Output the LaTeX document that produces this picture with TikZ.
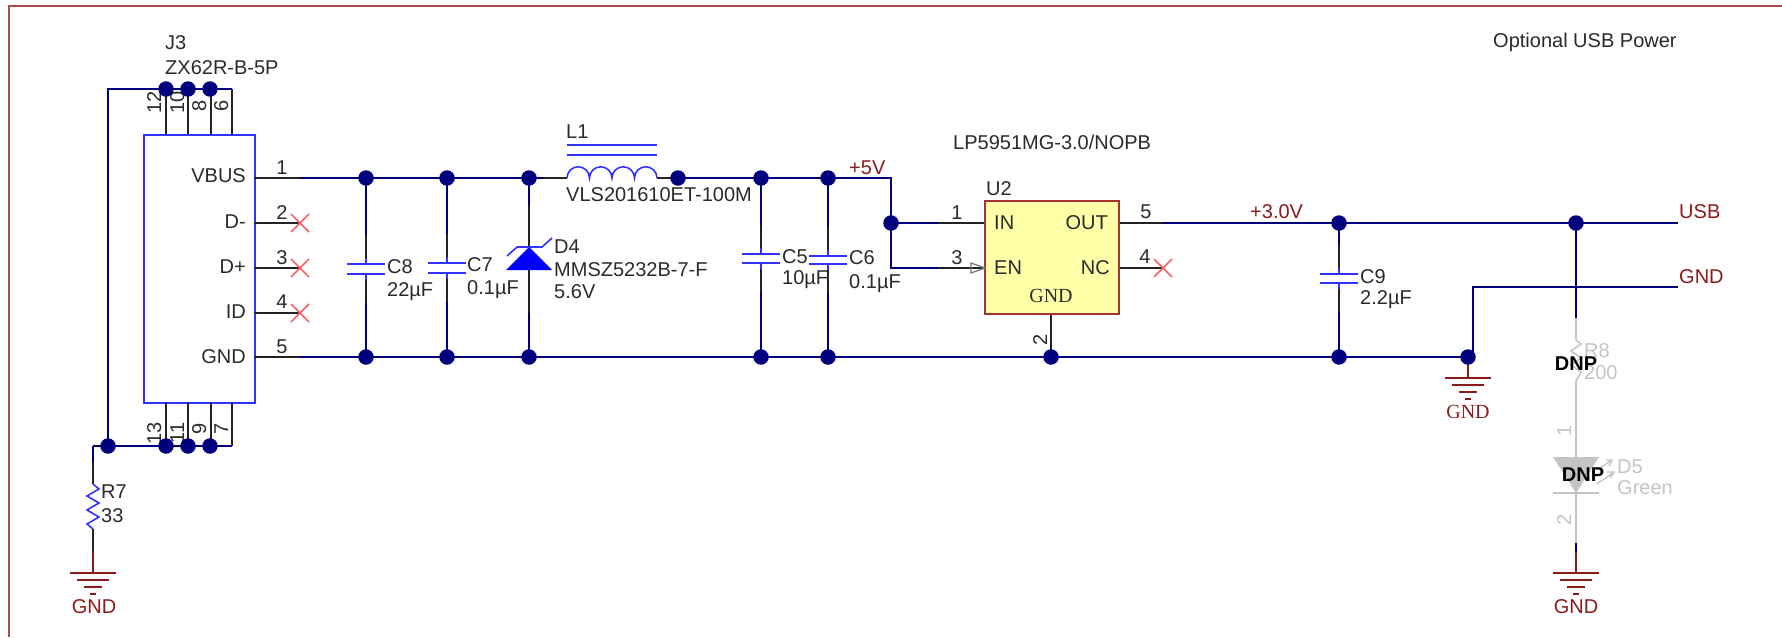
\documentclass[tikz,border=0pt]{standalone}
\usepackage{fontspec}
\setmainfont{Liberation Sans}
\newfontfamily\serifgnd{Liberation Serif}
\definecolor{wirec}{HTML}{00007F}
\definecolor{partc}{HTML}{3333FF}
\definecolor{pinc}{HTML}{222222}
\definecolor{xc}{HTML}{FF6060}
\definecolor{netc}{HTML}{8B1A1A}
\definecolor{framec}{HTML}{B04A4A}
\definecolor{dnpc}{HTML}{C4C4C4}
\definecolor{chipf}{HTML}{FFFFA8}
\definecolor{chipb}{HTML}{A83232}
\definecolor{labc}{HTML}{2A2A2A}
\tikzset{
  lab/.style={font=\fontsize{20}{21}\selectfont,text=labc,inner sep=0pt},
  lw/.style={lab,anchor=mid west,yshift=-3.5pt},
  le/.style={lab,anchor=mid east,yshift=-3.5pt},
  lc/.style={lab,anchor=mid,yshift=-3.5pt},
  rot/.style={lab,anchor=mid,xshift=3.5pt,rotate=90},
  net/.style={font=\fontsize{20}{21}\selectfont,text=netc,inner sep=0pt,yshift=-3.5pt},
  netg/.style={net,anchor=mid},
  dnplab/.style={lab,text=dnpc},
  dnpmark/.style={font=\fontsize{20}{21}\selectfont\bfseries,text=black,inner sep=0pt,anchor=mid,yshift=-3.5pt},
  wire/.style={draw=wirec,line width=1.6pt},
  pin/.style={draw=pinc,line width=1.5pt},
  part/.style={draw=partc,line width=1.6pt},
  gndw/.style={draw=netc,line width=1.6pt},
  dnpw/.style={draw=dnpc,line width=1.6pt},
  dot/.style={circle,fill=wirec,draw=none,minimum size=15.5pt,inner sep=0pt},
  nc/.style={draw=xc,line width=1.5pt},
}
\newcommand{\gsym}[1]{%
  \draw[gndw] (#1) ++(-23,0) -- ++(46,0);
  \draw[gndw] (#1) ++(-16,7) -- ++(32,0);
  \draw[gndw] (#1) ++(-9,14) -- ++(18,0);
  \draw[gndw] (#1) ++(-3,21) -- ++(6,0);
}
\newcommand{\xmark}[1]{%
  \draw[nc] (#1) ++(-9,-9) -- ++(18,18);
  \draw[nc] (#1) ++(-9,9) -- ++(18,-18);
}
\newcommand{\capsym}[5]{% name, x, y1 plate, y2 plate, half width
  \coordinate (#1a) at (#2,#3);
  \coordinate (#1b) at (#2,#4);
  \coordinate (#1c) at (#2,#3-29);
  \coordinate (#1d) at (#2,#4+29);
  \draw[part] (#1a) ++(-#5,0) -- ++(2*#5,0);
  \draw[part] (#1b) ++(-#5,0) -- ++(2*#5,0);
  \draw[part] (#1a) -- ++(0,-6);
  \draw[part] (#1b) -- ++(0,6);
  \draw[pin] (#1a) ++(0,-6) -- (#1c);
  \draw[pin] (#1b) ++(0,6) -- (#1d);
}
\begin{document}
\begin{tikzpicture}[x=1pt,y=-1pt]
\useasboundingbox (0,0) rectangle (1782,637);
% frame
\coordinate (fa) at (9,637);
\coordinate (fb) at (9,6);
\coordinate (fc) at (1782,6);
\draw[draw=framec,line width=2pt] (fa) -- (fb) -- (fc);

% J3
\node[draw=partc,line width=1.8pt,fill=white,minimum width=111pt,minimum height=268pt,inner sep=0pt,anchor=north west] (J3) at (143,134) {};
\foreach \n/\x in {p12/166,p10/188,p8/211,p6/232}{
  \coordinate (\n t) at (\x,89); \coordinate (\n a) at (\x,134);
  \draw[pin] (\n t) -- (\n a);}
\foreach \n/\x in {p13/166,p11/188,p9/211,p7/232}{
  \coordinate (\n t) at (\x,446); \coordinate (\n a) at (\x,402);
  \draw[pin] (\n a) -- (\n t);}
\coordinate (tl) at (108,89);
\coordinate (bl) at (93,446);
\coordinate (jb0c) at (108,446);
\draw[wire] (p6t) -- (tl) -- (jb0c);
\draw[wire] (p7t) -- (bl);
% R7
\coordinate (r7a) at (93,462);
\coordinate (r7b) at (93,484);
\coordinate (r7c) at (93,529);
\coordinate (r7d) at (93,551);
\coordinate (g7a) at (93,573);
\draw[wire] (bl) -- (r7a);
\draw[pin] (r7a) -- (r7b);
\draw[part] (r7b) -- ++(6,5) -- ++(-12,7) -- ++(12,7) -- ++(-12,7) -- ++(12,7) -- ++(-12,7) -- (r7c);
\draw[pin] (r7c) -- (r7d);
\draw[gndw] (r7d) -- (g7a);
\gsym{g7a}
\node[netg] (gt1) at (94,607) {GND};
\node[lw] (r7n) at (101,492) {R7};
\node[lw] (r7v) at (101,516) {33};

% J3 pins right
\foreach \n/\y in {pv/178,pdm/223,pdp/268,pid/313,pg/357}{
  \coordinate (\n0) at (254,\y); \coordinate (\n1) at (300,\y);
  \draw[pin] (\n0) -- (\n1);}
\xmark{pdm1}\xmark{pdp1}\xmark{pid1}
\node[le] (lv) at (246,176) {VBUS};
\node[le] (ld) at (246,222) {D-};
\node[le] (lp) at (246,267) {D+};
\node[le] (li) at (246,312) {ID};
\node[le] (lg) at (246,357) {GND};
\node[lc] (n1) at (282,168) {1};
\node[lc] (n2) at (282,213) {2};
\node[lc] (n3) at (282,258) {3};
\node[lc] (n4) at (282,302) {4};
\node[lc] (n5) at (282,347) {5};
\node[rot] (r12) at (155,102) {12};
\node[rot] (r10) at (178,102) {10};
\node[rot] (r8) at (200,106) {8};
\node[rot] (r6) at (222,106) {6};
\node[rot] (r13) at (155,433) {13};
\node[rot] (r11) at (178,433) {11};
\node[rot] (r9) at (200,429) {9};
\node[rot] (r7r) at (222,429) {7};
\node[lw] (j3n) at (165,43) {J3};
\node[lw] (j3v) at (165,68) {ZX62R-B-5P};

% rails
\coordinate (a4c) at (678,178);
\coordinate (g9c) at (1468,357);
\coordinate (l1a) at (543,178);
\coordinate (l1b) at (567,178);
\coordinate (l1c) at (657,178);
\draw[wire] (pv1) -- (l1a);
\draw[wire] (pg1) -- (g9c);
\draw[pin] (l1a) -- (l1b);
\draw[pin] (l1c) -- (a4c);
\draw[part] (l1b) arc[start angle=180,end angle=0,radius=11.25pt] arc[start angle=180,end angle=0,radius=11.25pt] arc[start angle=180,end angle=0,radius=11.25pt] arc[start angle=180,end angle=0,radius=11.25pt];
\coordinate (lb1) at (567,145); \coordinate (lb2) at (657,145);
\coordinate (lb3) at (567,155); \coordinate (lb4) at (657,155);
\draw[part] (lb1) -- (lb2);
\draw[part] (lb3) -- (lb4);
\node[lw] (l1n) at (566,132) {L1};
\node[lw] (l1v) at (566,195) {VLS201610ET-100M};
\coordinate (vr) at (891,178);
\coordinate (en0) at (891,268);
\coordinate (inc) at (891,223);
\coordinate (in1) at (938,223);
\coordinate (en1) at (938,268);
\draw[wire] (a4c) -- (vr) -- (en0) -- (en1);
\draw[wire] (inc) -- (in1);

% capacitors and their stubs to the rails
\capsym{c8}{366}{264}{274}{19}
\capsym{c7}{447}{263}{273}{19}
\capsym{c5}{761}{254}{263}{19}
\capsym{c6}{828}{256}{264}{19}
\capsym{c9}{1339}{274}{283}{19}
\foreach \c/\x/\t in {c8/366/178,c7/447/178,c5/761/178,c6/828/178,c9/1339/223}{
  \draw[wire] (\x,\t) -- (\c c);
  \draw[wire] (\c d) -- (\x,357);
}
\node[lw] (c8n) at (387,267) {C8};
\node[lw] (c8v) at (387,290) {22µF};
\node[lw] (c7n) at (467,265) {C7};
\node[lw] (c7v) at (467,288) {0.1µF};
\node[lw] (c5n) at (782,257) {C5};
\node[lw] (c5v) at (782,278) {10µF};
\node[lw] (c6n) at (849,258) {C6};
\node[lw] (c6v) at (849,282) {0.1µF};
\node[lw] (c9n) at (1360,277) {C9};
\node[lw] (c9v) at (1360,298) {2.2µF};

% D4
\coordinate (a3c) at (529,178);
\coordinate (g3c) at (529,357);
\coordinate (d4w1) at (529,205);
\coordinate (d4k) at (529,247);
\coordinate (d4a) at (529,270);
\coordinate (d4w2) at (529,313);
\draw[wire] (a3c) -- (d4w1);
\draw[pin] (d4w1) -- (d4k);
\draw[pin] (d4a) -- (d4w2);
\draw[wire] (d4w2) -- (g3c);
\fill[blue] (d4k) -- (552,270) -- (506,270) -- cycle;
\draw[part] (507,256) -- (517,247) -- (542,247) -- (552,238);
\node[lw] (d4n) at (554,247) {D4};
\node[lw] (d4m) at (554,270) {MMSZ5232B-7-F};
\node[lw] (d4v) at (554,292) {5.6V};

\node[net,anchor=mid west] (v5) at (849,168) {+5V};
\node[lw] (u2v) at (953,143) {LP5951MG-3.0/NOPB};

% U2
\coordinate (g7c) at (1051,357);
\node[draw=chipb,fill=chipf,line width=1.8pt,minimum width=134pt,minimum height=113pt,inner sep=0pt,anchor=north west] (U2) at (984,200) {};
\draw[pin] (in1) -- (U2.west |- in1);
\draw[pin] (en1) -- (U2.west |- en1);
\draw[draw=pinc!60,line width=1.3pt] (971,263) -- (985,268) -- (971,273) -- cycle;
\coordinate (out0) at (U2.east |- in1);
\coordinate (out1) at (1163,223);
\coordinate (nc0) at (U2.east |- en1);
\coordinate (nc1) at (1163,268);
\draw[pin] (out0) -- (out1);
\draw[pin] (nc0) -- (nc1);
\xmark{nc1}
\draw[pin] (U2.south -| g7c) -- (g7c);
\coordinate (usbend) at (1678,223);
\draw[wire] (out1) -- (usbend);
\node[lw] (u2n) at (986,189) {U2};
\node[lw] (uin) at (994,223) {IN};
\node[lw] (uen) at (994,268) {EN};
\node[le] (uout) at (1108,223) {OUT};
\node[le] (unc) at (1110,268) {NC};
\node[lc,font=\fontsize{20}{21}\selectfont\serifgnd] (ugnd) at (1051,296) {GND};
\node[lc] (un1) at (957,213) {1};
\node[lc] (un3) at (957,258) {3};
\node[lc] (un5) at (1146,212) {5};
\node[lc] (un4) at (1145,257) {4};
\node[rot] (un2) at (1041,340) {2};
\node[net,anchor=mid west] (v3) at (1250,212) {+3.0V};
\node[lw] (opt) at (1493,41) {Optional USB Power};

% right nets
\node[net,anchor=mid west] (usb) at (1679,212) {USB};
\node[net,anchor=mid west] (gndn) at (1679,277) {GND};
\coordinate (gc) at (1473,287);
\coordinate (gd) at (1678,287);
\coordinate (ge) at (1473,352);
\draw[wire] (ge) -- (gc) -- (gd);
\coordinate (g9g) at (1468,378);
\draw[gndw] (g9c) -- (g9g);
\gsym{g9g}
\node[net,anchor=mid,font=\fontsize{20}{21}\selectfont\serifgnd] (gt2) at (1468,412) {GND};

% R8 D5 (not placed)
\coordinate (o2c) at (1576,223);
\coordinate (r8a) at (1576,318);
\coordinate (r8b) at (1576,340);
\coordinate (r8c) at (1576,381);
\coordinate (d5a) at (1576,457);
\coordinate (d5k) at (1576,493);
\coordinate (d5w) at (1576,543);
\coordinate (d5x) at (1576,552);
\coordinate (g5a) at (1576,573);
\draw[wire] (o2c) -- (r8a);
\draw[dnpw] (r8a) -- (r8b);
\draw[dnpw] (r8b) -- ++(5,4) -- ++(-10,7) -- ++(10,7) -- ++(-10,7) -- ++(10,7) -- (r8c);
\draw[dnpw] (r8c) -- (d5a);
\fill[dnpc] (1553,457) -- (1599,457) -- (d5k) -- cycle;
\draw[dnpw] (1553,493) -- (1599,493);
\draw[dnpw] (d5k) -- (d5w);
\draw[wire] (d5w) -- (d5x);
\draw[gndw] (d5x) -- (g5a);
\gsym{g5a}
\draw[dnpw,line width=1.3pt] (1597,470) -- (1612,460) (1606,460) -- (1612,460) -- (1609,466);
\draw[dnpw,line width=1.3pt] (1597,484) -- (1614,472) (1607,472) -- (1614,472) -- (1610,478);
\node[dnplab,anchor=mid west,yshift=-3.5pt] (r8n) at (1584,351) {R8};
\node[dnplab,anchor=mid west,yshift=-3.5pt] (r8v) at (1584,373) {200};
\node[dnplab,anchor=mid west,yshift=-3.5pt] (d5n) at (1617,467) {D5};
\node[dnplab,anchor=mid west,yshift=-3.5pt] (d5v) at (1617,488) {Green};
\node[dnplab,anchor=mid,xshift=3.5pt,rotate=90] (d5p1) at (1565,431) {1};
\node[dnplab,anchor=mid,xshift=3.5pt,rotate=90] (d5p2) at (1565,520) {2};
\node[dnpmark] (dnp1) at (1576,364) {DNP};
\node[dnpmark] (dnp2) at (1583,475) {DNP};
\node[netg] (gt3) at (1576,607) {GND};

% junctions
\foreach \n/\x/\y in {jt1/166/89,jt2/188/89,jt3/210/89,jb0/108/446,jb1/166/446,jb2/188/446,jb3/210/446,
  a1/366/178,a2/447/178,a3/529/178,a4/678/178,a5/761/178,a6/828/178,in/891/223,
  o1/1339/223,o2/1576/223,
  g1/366/357,g2/447/357,g3/529/357,g5/761/357,g6/828/357,g7/1051/357,g8/1339/357,g9/1468/357}
  {\node[dot] (\n) at (\x,\y) {};}
\end{tikzpicture}
\end{document}
